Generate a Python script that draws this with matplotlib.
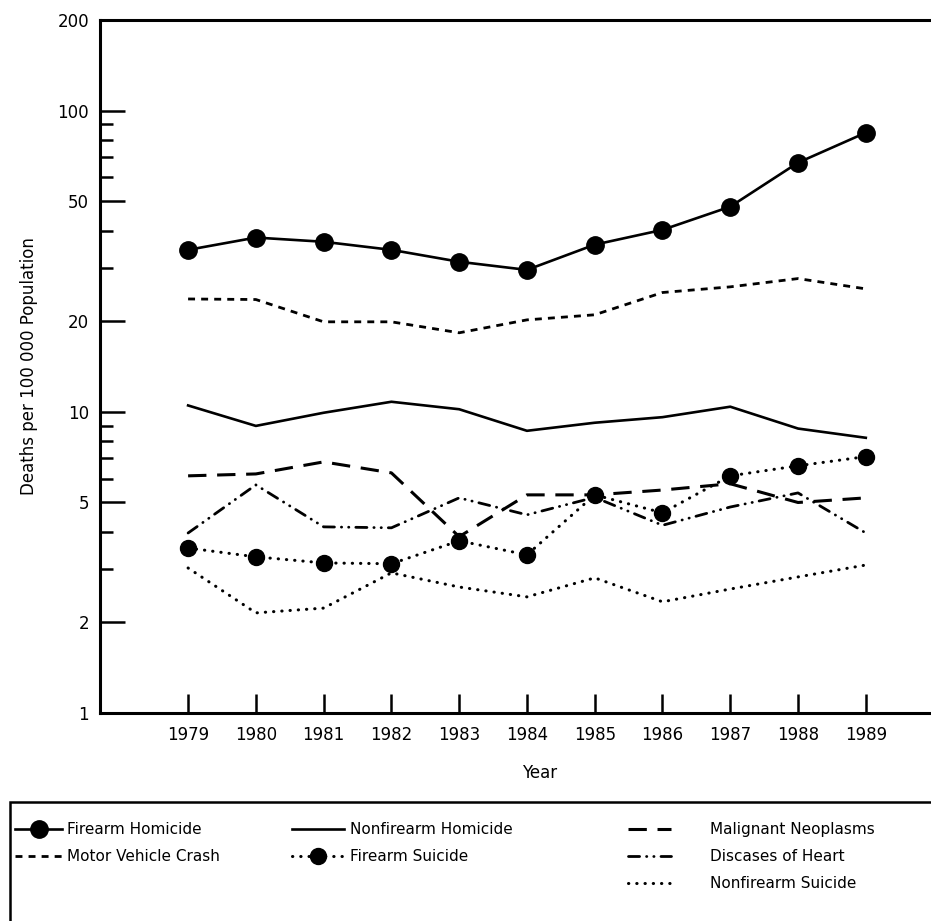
import matplotlib
matplotlib.use("Agg")
import matplotlib.pyplot as plt
from matplotlib.patches import Rectangle
from matplotlib.ticker import FixedLocator, NullFormatter

years = [1979, 1980, 1981, 1982, 1983, 1984, 1985, 1986, 1987, 1988, 1989]

firearm_homicide = [34.5, 37.9, 36.7, 34.5, 31.5, 29.6, 35.9, 40.2, 48.0, 67.2, 84.5]
motor_vehicle = [23.7, 23.6, 19.9, 19.9, 18.3, 20.2, 21.0, 24.9, 26.0, 27.7, 25.6]
nonfirearm_homicide = [10.5, 8.98, 9.93, 10.8, 10.2, 8.65, 9.2, 9.6, 10.4, 8.8, 8.2]
malignant = [6.13, 6.22, 6.82, 6.27, 3.85, 5.3, 5.3, 5.5, 5.77, 5.0, 5.18]
heart = [3.96, 5.72, 4.15, 4.12, 5.18, 4.55, 5.2, 4.2, 4.83, 5.38, 3.96]
firearm_suicide = [3.53, 3.3, 3.15, 3.13, 3.73, 3.35, 5.3, 4.62, 6.13, 6.62, 7.1]
nonfirearm_suicide = [3.03, 2.15, 2.23, 2.92, 2.62, 2.43, 2.81, 2.34, 2.58, 2.83, 3.1]

y_major = [1, 2, 5, 10, 20, 50, 100, 200]
y_minor = [3, 4, 6, 7, 8, 9, 30, 40, 60, 70, 80, 90]

W, H = 931, 921
fig = plt.figure(figsize=(W / 100, H / 100), dpi=100)
plt.rcParams['font.family'] = ['DejaVu Sans']

# axes box in pixels: left 100, right past the edge, top 20, bottom 713
ax = fig.add_axes([100 / W, 1 - 713 / H, 860 / W, 693 / H])

ax.plot(years, firearm_homicide, color='black', lw=1.9, marker='o', ms=12.5,
        label='Firearm Homicide')
ax.plot(years, motor_vehicle, color='black', lw=2.0, ls=(0, (2.5, 2.2)),
        label='Motor Vehicle Crash')
ax.plot(years, nonfirearm_homicide, color='black', lw=1.9,
        label='Nonfirearm Homicide')
ax.plot(years, firearm_suicide, color='black', lw=2.2, ls=(0, (0.1, 2.6)),
        dash_capstyle='round', marker='o', ms=11.5, label='Firearm Suicide')
ax.plot(years, malignant, color='black', lw=2.2, ls=(0, (6, 3.5)),
        label='Malignant Neoplasms')
ax.plot(years, heart, color='black', lw=2.0, ls=(0, (4, 2.5, 0.1, 2.5, 0.1, 2.5)),
        dash_capstyle='round', label='Discases of Heart')
ax.plot(years, nonfirearm_suicide, color='black', lw=2.2, ls=(0, (0.1, 2.6)),
        dash_capstyle='round', label='Nonfirearm Suicide')

ax.set_yscale('log')
ax.set_ylim(1, 200)
ax.set_xlim(1977.70, 1990.39)
ax.yaxis.set_major_locator(FixedLocator(y_major))
ax.yaxis.set_minor_locator(FixedLocator(y_minor))
ax.yaxis.set_minor_formatter(NullFormatter())
ax.set_yticklabels([str(v) for v in y_major])
ax.set_xticks(years)
ax.set_xticklabels([str(y) for y in years])

ax.tick_params(axis='y', which='major', direction='in', length=18, width=1.8,
               pad=8, labelsize=12)
ax.tick_params(axis='y', which='minor', direction='in', length=9, width=1.8)
ax.tick_params(axis='x', which='major', direction='in', length=14, width=1.8,
               pad=9, labelsize=12)
ax.tick_params(axis='x', which='minor', bottom=False)

for side in ['left', 'bottom', 'top']:
    ax.spines[side].set_linewidth(2.2)
ax.spines['right'].set_visible(False)

ax.set_ylabel('Deaths per 100 000 Population', fontsize=12, labelpad=14)
fig.text(540 / W, 1 - 773 / H, 'Year', ha='center', va='center', fontsize=12)

# legend frame runs off the right and bottom edges
fig.patches.append(Rectangle((10 / W, -0.05), 1.05, 0.05 + 1 - 802 / H,
                             transform=fig.transFigure, fill=False,
                             edgecolor='black', lw=1.8))

handles, labels = ax.get_legend_handles_labels()
lookup = dict(zip(labels, handles))
columns = [
    (['Firearm Homicide', 'Motor Vehicle Crash'], 15, 3.1, 0.3),
    (['Nonfirearm Homicide', 'Firearm Suicide'], 292, 3.4, 0.4),
    (['Malignant Neoplasms', 'Discases of Heart', 'Nonfirearm Suicide'], 628, 2.8, 2.6),
]
for names, x0, hl, pad in columns:
    fig.legend([lookup[n] for n in names], names, loc='upper left',
               bbox_to_anchor=(x0 / W, 1 - 822 / H), frameon=False,
               fontsize=11, handlelength=hl, handletextpad=pad,
               borderpad=0, borderaxespad=0, labelspacing=0.8, numpoints=1)

fig.savefig('out.png', dpi=100)
